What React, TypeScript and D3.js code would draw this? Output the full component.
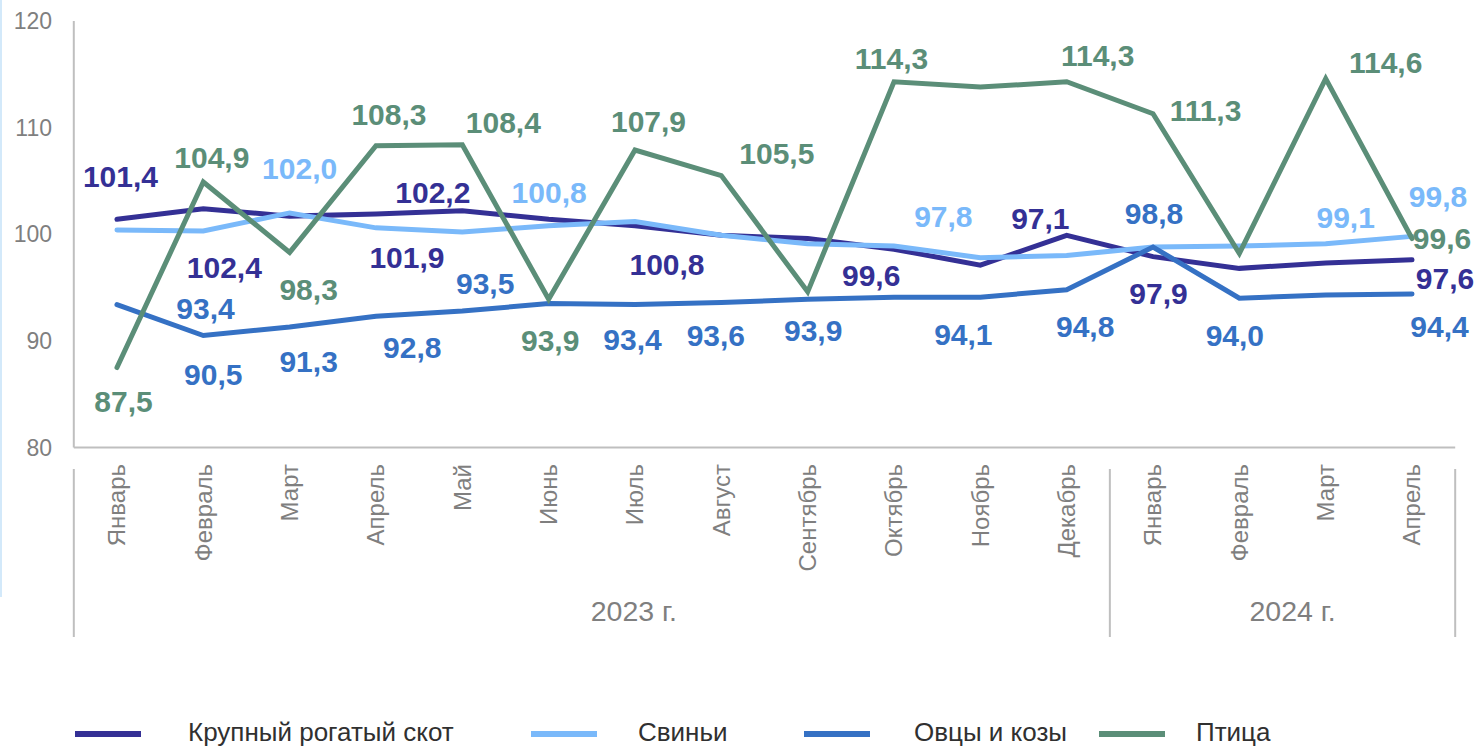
import React from "react";
import * as d3 from "d3";

const MONTHS = ["Январь","Февраль","Март","Апрель","Май","Июнь","Июль","Август","Сентябрь","Октябрь","Ноябрь","Декабрь","Январь","Февраль","Март","Апрель"];
const YEAR_LABELS = ["2023 г.", "2024 г."];
const YEAR_SPANS = [12, 4];
const Y_TICKS = [80, 90, 100, 110, 120];

const SERIES_NAMES = ["Крупный рогатый скот", "Свиньи", "Овцы и козы", "Птица"];
const SERIES_COLORS = ["#343095", "#7ab9fa", "#3571c4", "#5b8e78"];

const CATTLE = [101.4, 102.4, 101.7, 101.9, 102.2, 101.4, 100.8, 99.9, 99.6, 98.6, 97.1, 99.9, 97.9, 96.8, 97.3, 97.6];
const PIGS = [100.4, 100.3, 102.0, 100.6, 100.2, 100.8, 101.2, 99.9, 99.1, 98.9, 97.8, 98.0, 98.8, 98.9, 99.1, 99.8];
const SHEEP = [93.4, 90.5, 91.3, 92.3, 92.8, 93.5, 93.4, 93.6, 93.9, 94.1, 94.1, 94.8, 98.8, 94.0, 94.3, 94.4];
const POULTRY = [87.5, 104.9, 98.3, 108.3, 108.4, 93.9, 107.9, 105.5, 94.6, 114.3, 113.8, 114.3, 111.3, 98.2, 114.6, 99.6];
const SERIES = [CATTLE, PIGS, SHEEP, POULTRY];

// label layout: [series, point, dx, dy] in pixels from the data point
const LABEL_LAYOUT: [number, number, number, number][] = [
  [0, 0, 3.5, -43], [0, 1, 21, 59], [0, 3, 31, 44], [0, 4, -29.5, -18], [0, 6, 32, 39],
  [0, 8, 63.5, 37], [0, 10, 60, -47], [0, 12, 5.5, 37], [0, 15, 33, 18.5],
  [1, 2, 10, -44], [1, 5, 0.5, -33], [1, 10, -37, -41.7], [1, 14, 20, -26], [1, 15, 26, -40],
  [2, 0, 88.5, 3.5], [2, 1, 10, 38.5], [2, 2, 19, 34], [2, 4, -50, 36.5], [2, 5, -63.5, -20],
  [2, 6, -2.5, 35], [2, 7, -5.5, 33], [2, 8, 5.5, 31], [2, 10, -17, 37.5], [2, 11, 18.5, 37],
  [2, 12, 1, -34], [2, 13, -4.5, 37], [2, 15, 27.5, 33],
  [3, 0, 6.5, 34], [3, 1, 8.5, -25], [3, 2, 19, 37], [3, 3, 13, -31], [3, 4, 41, -22],
  [3, 5, 1.5, 41.7], [3, 6, 13.5, -29], [3, 7, 55.5, -22.5], [3, 9, -2.5, -23.5],
  [3, 11, 31, -26.7], [3, 12, 52.5, -3.3], [3, 14, 60, -15.8], [3, 15, 30, 0],
];

const LEGEND_SWATCH_X = [75, 531, 804, 1099];
const LEGEND_TEXT_X = [188, 638, 914, 1196];
const YEAR_LABEL_SHIFT = [42, 10];

const FONT = "'Liberation Sans', Arial, Helvetica, sans-serif";
const AXIS_GRAY = "#bfbfbf";
const TEXT_GRAY = "#7f7f7f";

export default function App() {
  const W = 1481, H = 748;
  const left = 73.8, right = 1455.2, top = 21, bottom = 447.5;
  const x = d3.scaleBand<number>().domain(d3.range(MONTHS.length)).range([left, right]);
  const cx = (i: number) => (x(i) as number) + x.bandwidth() / 2;
  const y = d3.scaleLinear().domain([80, 120]).range([bottom, top]);
  const line = d3.line<number>().x((_, i) => cx(i)).y((d) => y(d));
  const fmt = (v: number) => d3.format(".1f")(v).replace(".", ",");

  let acc = 0;
  const bounds = [0, ...YEAR_SPANS.map((s) => (acc += s))];
  const boundX = (k: number) => (k >= MONTHS.length ? right : (x(k) as number));

  return (
    <svg width={W} height={H} style={{ position: "absolute", left: 0, top: 0, background: "#fff" }} fontFamily={FONT}>
      <rect x={0} y={0} width={2} height={597} fill="#d3e9fa" />
      <line x1={left} x2={left} y1={top} y2={bottom} stroke={AXIS_GRAY} strokeWidth={2} />
      <line x1={left} x2={right} y1={bottom} y2={bottom} stroke={AXIS_GRAY} strokeWidth={2} />
      {Y_TICKS.map((t) => (
        <text key={t} x={52} y={y(t)} dy="0.35em" textAnchor="end" fontSize={23} fill={TEXT_GRAY}>
          {t}
        </text>
      ))}
      {MONTHS.map((m, i) => (
        <text key={i} transform={`translate(${cx(i)},464) rotate(-90)`} dy="0.35em" textAnchor="end" fontSize={24} fill={TEXT_GRAY}>
          {m}
        </text>
      ))}
      {bounds.map((b, k) => (
        <line key={k} x1={boundX(b)} x2={boundX(b)} y1={469} y2={637} stroke={AXIS_GRAY} strokeWidth={2} />
      ))}
      {YEAR_LABELS.map((lab, k) => (
        <text key={lab} x={(boundX(bounds[k]) + boundX(bounds[k + 1])) / 2 + YEAR_LABEL_SHIFT[k]} y={621} textAnchor="middle" fontSize={28.5} fill={TEXT_GRAY}>
          {lab}
        </text>
      ))}
      {SERIES.map((s, k) => (
        <path key={k} d={line(s) as string} fill="none" stroke={SERIES_COLORS[k]} strokeWidth={5} strokeLinecap="round" strokeLinejoin="miter" />
      ))}
      {LABEL_LAYOUT.map(([s, p, dx, dy], k) => (
        <text key={k} x={cx(p) + dx} y={y(SERIES[s][p]) + dy} dy="0.35em" textAnchor="middle" fontSize={30} fontWeight="bold" fill={SERIES_COLORS[s]}>
          {fmt(SERIES[s][p])}
        </text>
      ))}
      {SERIES_NAMES.map((n, k) => (
        <g key={n}>
          <line x1={LEGEND_SWATCH_X[k]} x2={LEGEND_SWATCH_X[k] + 66} y1={734} y2={734} stroke={SERIES_COLORS[k]} strokeWidth={6} />
          <text x={LEGEND_TEXT_X[k]} y={741} fontSize={26} fill="#303030">
            {n}
          </text>
        </g>
      ))}
    </svg>
  );
}
